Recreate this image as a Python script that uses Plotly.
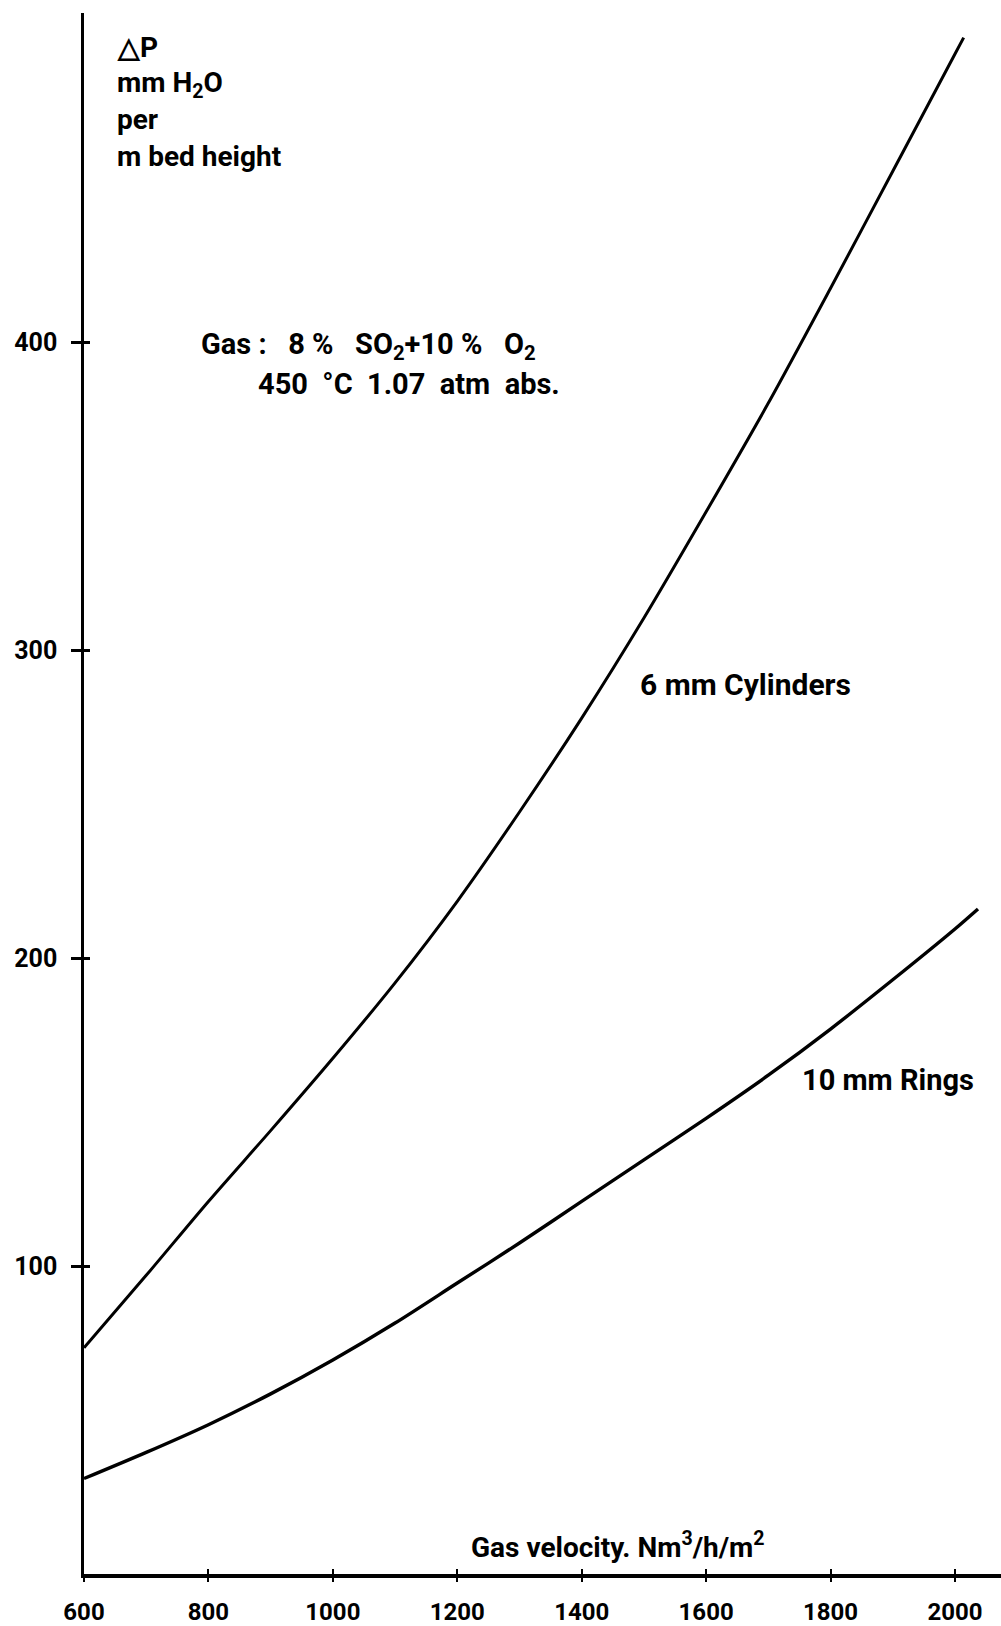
import plotly.graph_objects as go

# Gas velocity (Nm3/h/m2) and pressure drop (mm H2O per m bed height)
velocity_cyl = [600, 700, 800, 900, 1000, 1100, 1200, 1300, 1400, 1500, 1600, 1700, 1800, 1900, 2000, 2014]
dp_cyl = [73.5, 97, 121, 144, 167.5, 192, 218.5, 247.5, 278, 310.5, 345, 380.3, 417.6, 455.6, 493.7, 499]

velocity_ring = [600, 700, 800, 900, 1000, 1100, 1200, 1300, 1400, 1500, 1600, 1700, 1800, 1900, 2000, 2037]
dp_ring = [31, 39.5, 48.5, 58.5, 69.5, 81.5, 94.5, 107.5, 121, 134.5, 148, 162, 177, 193, 209.5, 216]

x_ticks = [600, 800, 1000, 1200, 1400, 1600, 1800, 2000]
x_ticklabels = ["600", "800", "1000", "1200", "1400", "1600", "1800", "2000"]
y_ticks = [100, 200, 300, 400]
y_ticklabels = ["100", "200", "300", "400"]

FONT = "Roboto, Liberation Sans, sans-serif"

fig = go.Figure()
fig.add_trace(go.Scatter(x=velocity_cyl, y=dp_cyl, mode="lines",
                         line=dict(color="black", width=3, shape="spline", smoothing=0.8),
                         name="6 mm Cylinders", showlegend=False))
fig.add_trace(go.Scatter(x=velocity_ring, y=dp_ring, mode="lines",
                         line=dict(color="black", width=3.4, shape="spline", smoothing=0.8),
                         name="10 mm Rings", showlegend=False))
# invisible anchors for the overlay axes (inner halves of the crossing ticks)
fig.add_trace(go.Scatter(x=[velocity_cyl[0]], y=[dp_cyl[0]], mode="markers",
                         marker=dict(opacity=0), xaxis="x", yaxis="y2",
                         showlegend=False, hoverinfo="skip"))
fig.add_trace(go.Scatter(x=[velocity_cyl[0]], y=[dp_cyl[0]], mode="markers",
                         marker=dict(opacity=0), xaxis="x2", yaxis="y",
                         showlegend=False, hoverinfo="skip"))

XR = [600, 2074]
YR = [0, 507]

fig.update_layout(
    width=1001, height=1626,
    margin=dict(l=84, r=0, t=13, b=45),
    paper_bgcolor="white", plot_bgcolor="white",
    font=dict(family=FONT, size=26, color="black", weight="bold"),
    xaxis=dict(range=XR, tickvals=x_ticks, ticktext=x_ticklabels,
               showgrid=False, zeroline=False, showline=True, linecolor="black",
               linewidth=3.5, ticks="outside", ticklen=4, tickwidth=2, tickcolor="black",
               ticklabelstandoff=9,
               tickfont=dict(family=FONT, size=24, weight="bold")),
    xaxis2=dict(range=XR, overlaying="x", side="bottom", tickvals=x_ticks,
                showticklabels=False, showgrid=False, zeroline=False,
                showline=False, ticks="inside", ticklen=5, tickwidth=2, tickcolor="black"),
    yaxis=dict(range=YR, tickvals=y_ticks, ticktext=y_ticklabels,
               showgrid=False, zeroline=False, showline=True, linecolor="black",
               linewidth=2.5, ticks="outside", ticklen=10, tickwidth=3, tickcolor="black",
               ticklabelstandoff=9,
               tickfont=dict(family=FONT, size=25, weight="bold")),
    yaxis2=dict(range=YR, overlaying="y", side="left", tickvals=y_ticks,
                showticklabels=False, showgrid=False, zeroline=False,
                showline=False, ticks="inside", ticklen=6, tickwidth=3, tickcolor="black"),
)

def label(text, x, y, size=26, xanchor="left", yanchor="middle"):
    fig.add_annotation(text=text, x=x, y=y, xref="x", yref="y",
                       showarrow=False, xanchor=xanchor, yanchor=yanchor,
                       font=dict(family=FONT, size=size, color="black", weight="bold"))

# y-axis title block
label("△P", 650, 495.7, size=28)
label("mm H<sub>2</sub>O", 650, 483.9, size=28)
label("per", 650, 472.4, size=28)
label("m bed height", 650, 460.4, size=28)

# gas conditions
label("Gas :   8 %   SO<sub>2</sub>+10 %   O<sub>2</sub>", 785, 398.9, size=29)
label("450  °C  1.07  atm  abs.", 877, 386.4, size=29)

# curve labels
label("6 mm Cylinders", 1491, 288.9, size=30)
label("10 mm Rings", 1751, 160.4, size=29)

# x-axis title
label("Gas velocity. Nm<sup>3</sup>/h/m<sup>2</sup>", 1219, 9.4, size=28)

fig.write_html(
    "out.html",
    config={"displayModeBar": False},
    post_script="document.body.style.margin='0px';"
                "document.documentElement.style.overflow='hidden';",
)
